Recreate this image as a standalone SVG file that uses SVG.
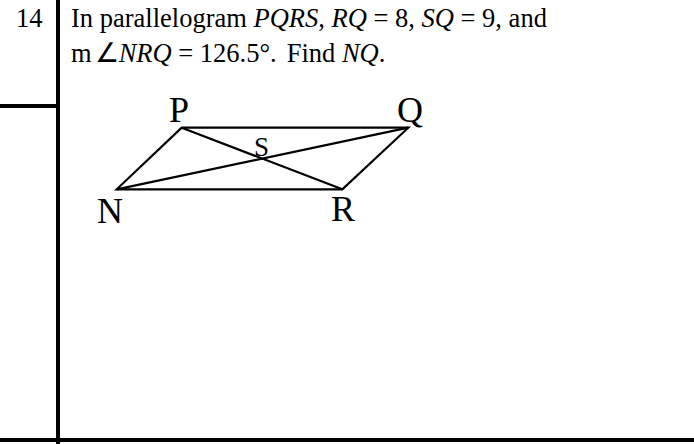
<svg xmlns="http://www.w3.org/2000/svg" width="694" height="444" viewBox="0 0 694 444">
<style>
text{font-family:"Liberation Serif","Times New Roman",serif;fill:#000}
.t{font-size:26.5px;white-space:pre}
.i{font-style:italic}
.lbl{font-size:36px}
.rule{stroke:#000;stroke-width:4;fill:none}
.edge{stroke:#000;stroke-width:2.2;fill:none;stroke-linejoin:miter}
</style>
<rect width="694" height="444" fill="#fff"/>
<g id="frame">
<line class="rule" x1="58" y1="0" x2="58" y2="444"/>
<line class="rule" x1="0" y1="106" x2="58" y2="106"/>
<line class="rule" x1="0" y1="440" x2="694" y2="440"/>
</g>
<g id="question">
<text class="t" x="16" y="27">14</text>
<text class="t" x="71" y="27" xml:space="preserve">In parallelogram <tspan class="i">PQRS</tspan>, <tspan class="i">RQ</tspan> = 8, <tspan class="i">SQ</tspan> = 9, and</text>
<text class="t" x="71" y="62" xml:space="preserve">m<tspan dx="3">∠</tspan><tspan class="i">NRQ</tspan> = 126.5°.<tspan dx="10">Find </tspan><tspan class="i">NQ</tspan>.</text>
</g>
<g id="connectors">
<polygon class="edge" points="181.7,127.7 408.3,127.7 342.3,189.3 116.7,189.3"/>
<line class="edge" x1="181.7" y1="127.7" x2="342.3" y2="189.3"/>
<line class="edge" x1="116.7" y1="189.3" x2="408.3" y2="127.7"/>
</g>
<g id="node-P"><text class="lbl" x="169" y="122">P</text></g>
<g id="node-Q"><text class="lbl" x="397" y="122">Q</text></g>
<g id="node-N"><text class="lbl" x="97" y="223">N</text></g>
<g id="node-R"><text class="lbl" x="331" y="221">R</text></g>
<g id="node-S"><text x="254" y="156" style="font-size:27px">S</text></g>
</svg>
